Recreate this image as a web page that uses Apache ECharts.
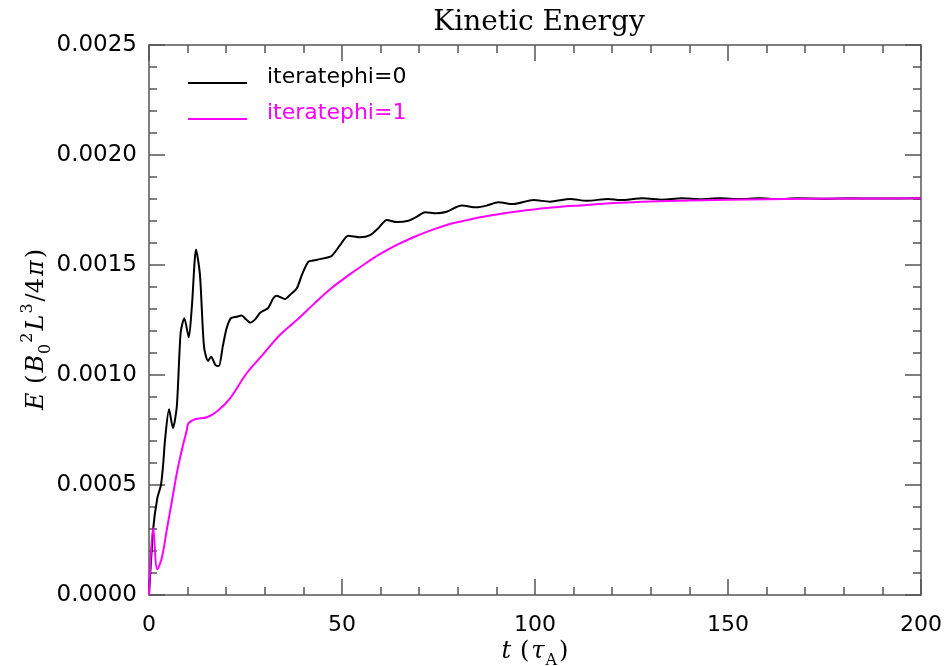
<!DOCTYPE html>
<html>
<head>
<meta charset="utf-8">
<script src="https://cdn.jsdelivr.net/npm/echarts@6/dist/echarts.min.js"></script>
<style>
  html, body { margin: 0; padding: 0; background: #fff; }
  #chart { width: 945px; height: 666px; }
</style>
</head>
<body>
<div id="chart"></div>
<script>
// Time (in Alfven times) and kinetic energy, run with iteratephi=0
const tPhi0 = [0, 1.1, 2.15, 3.1, 3.7, 4.15, 5.2, 6.2, 7.2, 8.2, 9.15, 10.3, 11.1, 12.2, 13.2, 14.25,
  15.3, 16.1, 17.2, 18.1, 19.1, 20.1, 21.2, 22.7, 24.0, 25.1, 26.2, 27.5, 28.8, 30.0, 30.9,
  32.2, 33.1, 35.2, 36.5, 38.3, 39.6, 41.3, 42.6, 45.2, 47.3, 49.5, 51.6, 54.7, 57.3, 59.4,
  61.6, 64.2, 67.2, 69.4, 71.5, 74.5, 77.1, 81.0, 84.9, 87.5, 90.5, 94.4, 99.6, 103.9,
  109.1, 113.4, 119.0, 122, 128, 133, 138, 143, 148, 153, 158, 163, 168, 175, 182, 190, 200];
const ePhi0 = [0, 0.000303, 0.00044, 0.0005, 0.0006, 0.000705, 0.000844, 0.000759, 0.000856,
  0.001192, 0.001258, 0.001171, 0.00131, 0.001571, 0.001455, 0.001129, 0.001064, 0.001083,
  0.001045, 0.001041, 0.001129, 0.001212, 0.001258, 0.001265, 0.00127, 0.001253, 0.001238,
  0.001253, 0.001283, 0.001295, 0.001305, 0.001349, 0.00136, 0.001345, 0.001364, 0.001394,
  0.001455, 0.001515, 0.00152, 0.00153, 0.001541, 0.00159, 0.001633, 0.001626, 0.001636,
  0.001667, 0.001705, 0.001695, 0.001701, 0.00172, 0.00174, 0.001735, 0.001742, 0.00177,
  0.001762, 0.00177, 0.001785, 0.001777, 0.001795, 0.001788, 0.0018, 0.001792, 0.0018,
  0.001795, 0.001803, 0.001797, 0.001803, 0.001799, 0.001803, 0.0018, 0.001803, 0.0018,
  0.001803, 0.001801, 0.001803, 0.001802, 0.001803];

// Same quantity, run with iteratephi=1
const tPhi1 = [0, 1.1, 2.15, 3.3, 4.6, 5.9, 7.2, 8.5, 9.8, 10.2, 11.9, 15.0, 17.5, 21.0, 25.3,
  29.6, 33.9, 38.3, 42.6, 46.9, 51.2, 55.5, 59.8, 64.2, 68.5, 72.8, 77.1, 81.4, 85.8, 90.1,
  94.4, 103.0, 111.7, 122, 140, 160, 180, 200];
const ePhi1 = [0, 0.000303, 0.000117, 0.000167, 0.000295, 0.000424, 0.000553, 0.000659,
  0.00075, 0.00078, 0.000799, 0.000808, 0.000833, 0.000894, 0.001008, 0.001095, 0.001182,
  0.00125, 0.001321, 0.00139, 0.001447, 0.0015, 0.001549, 0.001591, 0.001626, 0.001656,
  0.001682, 0.0017, 0.001717, 0.00173, 0.001741, 0.001759, 0.001771, 0.001783, 0.001793,
  0.001799, 0.001802, 0.001803];

const seriesNames = ['iteratephi=0', 'iteratephi=1'];
const xTicks = [0, 50, 100, 150, 200];
const yTicks = [0, 0.0005, 0.0010, 0.0015, 0.0020, 0.0025];

const pairs = (xs, ys) => xs.map((x, i) => [x, ys[i]]);

const axisGray = '#555';
const tickFont = { fontFamily: 'DejaVu Sans', fontSize: 23, color: '#000' };
const serif = 'DejaVu Serif';
const mathRich = {
  i: { fontFamily: serif, fontStyle: 'italic', fontSize: 24, lineHeight: 34, padding: [0, 1, 0, 1], color: '#000' },
  n: { fontFamily: serif, fontSize: 24, lineHeight: 34, padding: [0, 1, 0, 1], color: '#000' },
  end: { fontFamily: serif, fontSize: 24, lineHeight: 34, padding: [0, 20, 0, 1], color: '#000' },
  sup: { fontFamily: serif, fontSize: 16, lineHeight: 16, verticalAlign: 'top', padding: [0, 1, 0, 0], color: '#000' },
  sub: { fontFamily: serif, fontSize: 16, lineHeight: 16, verticalAlign: 'bottom', padding: [0, 1, 0, 0], color: '#000' }
};

// Legend swatch: a short horizontal stroke sitting in the lower part of the icon box
const legendStroke = 'path://M0,0 L0.01,0 L0.01,0.01 Z M0,12 L59,12 L59,14 L0,14 Z';

function frameAxis(extra) {
  return Object.assign({
    axisLine: { show: true, onZero: false, lineStyle: { color: axisGray, width: 1.5 } },
    axisTick: { show: true, inside: true, length: 16, lineStyle: { color: axisGray, width: 1.5 } },
    minorTick: { show: true, splitNumber: 5, length: 8, lineStyle: { color: axisGray, width: 1.5 } },
    splitLine: { show: false },
    minorSplitLine: { show: false }
  }, extra);
}

const chart = echarts.init(document.getElementById('chart'), null, { renderer: 'canvas' });
chart.setOption({
  backgroundColor: '#fff',
  animation: false,
  title: {
    text: 'Kinetic Energy',
    left: 534,
    top: 4,
    textAlign: 'center',
    textStyle: { fontFamily: serif, fontWeight: 'normal', fontSize: 28, color: '#000' }
  },
  legend: {
    orient: 'vertical',
    left: 188,
    top: 66,
    padding: 0,
    icon: legendStroke,
    itemWidth: 59,
    itemHeight: 14,
    itemGap: 14,
    data: [
      { name: seriesNames[0], textStyle: { color: '#000' } },
      { name: seriesNames[1], textStyle: { color: '#ff00ff' } }
    ],
    textStyle: { fontFamily: 'DejaVu Sans', fontSize: 22, lineHeight: 22, padding: [0, 0, 0, 15] }
  },
  grid: { left: 149, right: 24, top: 45, bottom: 71, containLabel: false, outerBoundsMode: 'none' },
  xAxis: [
    frameAxis({
      type: 'value', position: 'bottom', min: 0, max: 200, interval: 50,
      axisLabel: Object.assign({ margin: 19, formatter: v => xTicks.includes(v) ? String(v) : '' }, tickFont, { fontSize: 22 }),
      name: '{i|t}  {n|(}{i|τ}{sub|A}{n|)}',
      nameLocation: 'middle',
      nameGap: 40,
      nameMoveOverlap: false,
      nameTextStyle: { rich: mathRich }
    }),
    frameAxis({
      type: 'value', position: 'top', min: 0, max: 200, interval: 50,
      axisLabel: { show: false }
    })
  ],
  yAxis: [
    frameAxis({
      type: 'value', position: 'left', min: 0, max: 0.0025, interval: 0.0005,
      axisLabel: Object.assign({ margin: 12, formatter: v => {
        const hit = yTicks.find(t => Math.abs(t - v) < 1e-9);
        return hit === undefined ? '' : hit.toFixed(4);
      } }, tickFont),
      name: '{i|E}  {n|(}{i|B}{sub|0}{sup|2}{i|L}{sup|3}{n|/4}{i|π}{end|)}',
      nameLocation: 'middle',
      nameRotate: 90,
      nameGap: 95,
      nameMoveOverlap: false,
      nameTextStyle: { rich: mathRich }
    }),
    frameAxis({
      type: 'value', position: 'right', min: 0, max: 0.0025, interval: 0.0005,
      axisLabel: { show: false }
    })
  ],
  series: [
    {
      name: seriesNames[0], type: 'line', xAxisIndex: 0, yAxisIndex: 0,
      data: pairs(tPhi0, ePhi0), symbol: 'none', smooth: 0.25,
      lineStyle: { color: '#000', width: 2 }, itemStyle: { color: '#000' }
    },
    {
      name: seriesNames[1], type: 'line', xAxisIndex: 0, yAxisIndex: 0,
      data: pairs(tPhi1, ePhi1), symbol: 'none', smooth: 0.35,
      lineStyle: { color: '#ff00ff', width: 2 }, itemStyle: { color: '#ff00ff' }
    }
  ]
});
</script>
</body>
</html>
